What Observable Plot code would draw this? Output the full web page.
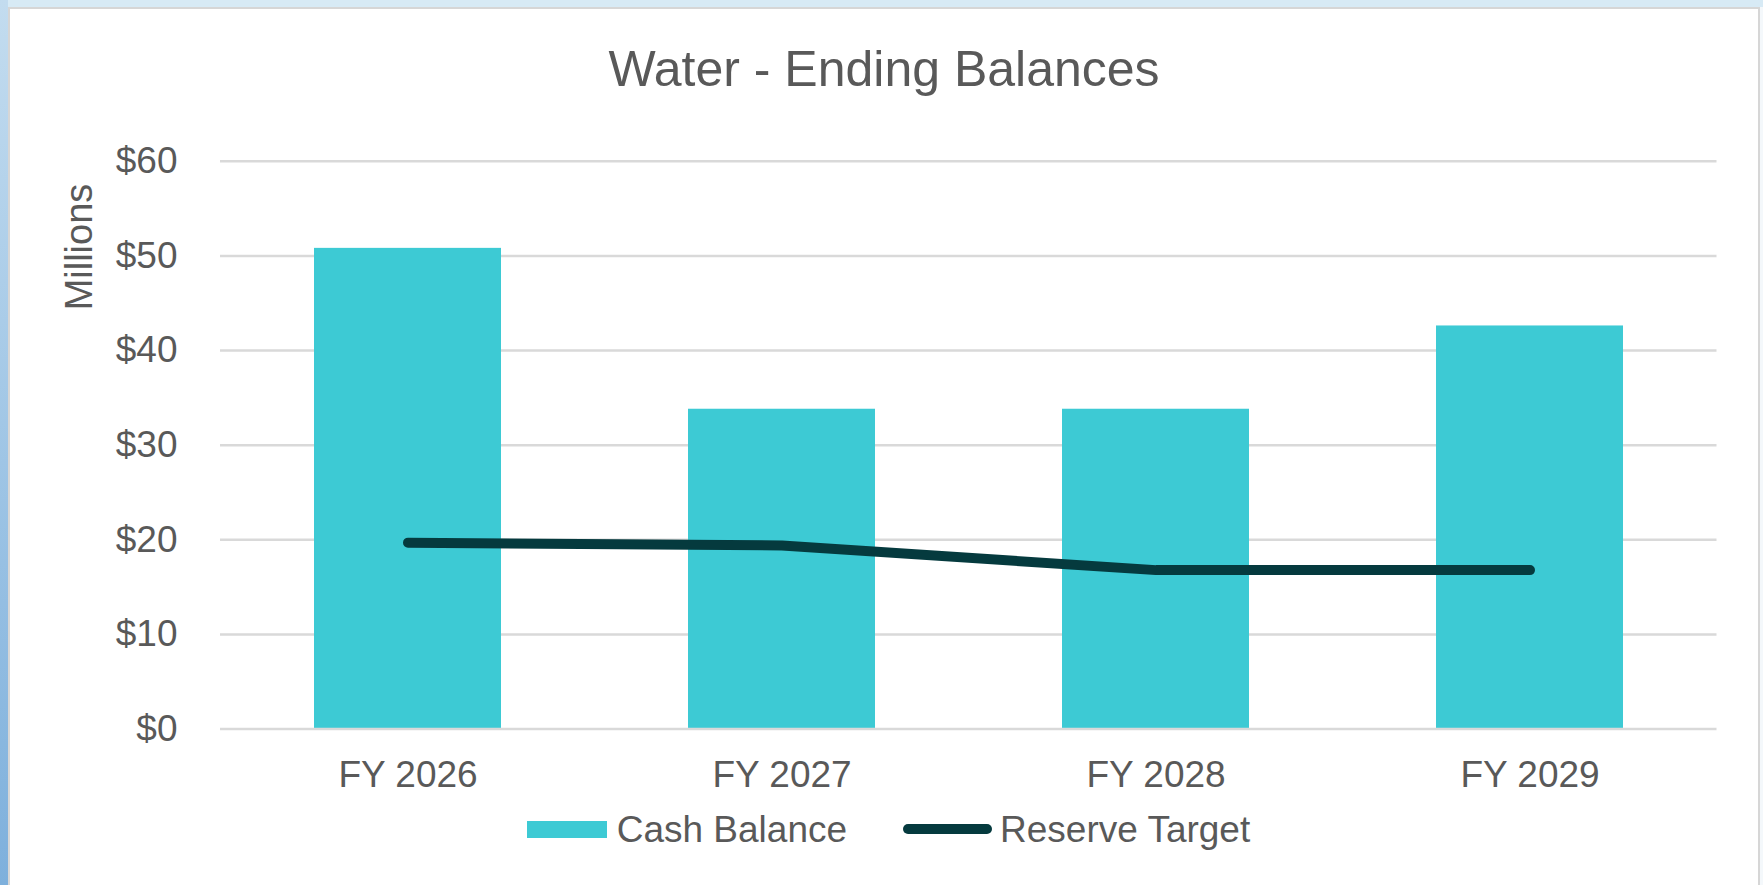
<!DOCTYPE html>
<html><head><meta charset="utf-8">
<script src="https://cdn.jsdelivr.net/npm/d3@7"></script>
<script src="https://cdn.jsdelivr.net/npm/@observablehq/plot@0.6"></script>
<style>
html,body{margin:0;padding:0;}
body{width:1763px;height:885px;overflow:hidden;background:#d7eaf5;font-family:"Liberation Sans",Arial,sans-serif;position:relative;}
#strip{position:absolute;left:0;top:0;width:8px;height:885px;background:linear-gradient(#c3dcef,#7eb0dc);}
#rside{position:absolute;left:1758px;top:7px;width:5px;height:878px;background:#f4f8fb;}
#panel{position:absolute;left:8px;top:7px;width:1752px;height:890px;background:#fff;border:2px solid #d6d6d6;box-sizing:border-box;}
.t{position:absolute;color:#595959;white-space:nowrap;}
#chart{position:absolute;left:0;top:110px;}
</style></head><body>
<div id="strip"></div>
<div id="rside"></div>
<div id="panel"></div>
<div id="chart"></div>
<script>
const title = "Water - Ending Balances";
const yLabel = "Millions";
const categories = ["FY 2026", "FY 2027", "FY 2028", "FY 2029"];
const cashBalance = [50.8, 33.8, 33.8, 42.6];
const reserveTarget = [19.7, 19.4, 16.8, 16.8];
const yTicks = [0, 10, 20, 30, 40, 50, 60];
const seriesNames = ["Cash Balance", "Reserve Target"];
const barColor = "#3dcad4";
const lineColor = "#053a3e";

const data = categories.map((c, i) => ({year: c, cash: cashBalance[i], reserve: reserveTarget[i]}));

const chart = Plot.plot({
  width: 1763, height: 700,
  marginLeft: 220, marginRight: 46.5, marginTop: 50.8, marginBottom: 81.4,
  style: {background: "transparent", fontFamily: "'Liberation Sans', Arial, sans-serif", color: "#595959", fontSize: "37px"},
  x: {domain: categories, paddingInner: 0.5, paddingOuter: 0.25, label: null},
  y: {domain: [0, 60], label: null},
  marks: [
    Plot.ruleY(yTicks.filter(d => d > 0), {stroke: "#d9d9d9", strokeWidth: 2.5}),
    Plot.barY(data, {x: "year", y: "cash", fill: barColor}),
    Plot.ruleY([0], {stroke: "#d9d9d9", strokeWidth: 2.5}),
    Plot.line(data, {x: "year", y: "reserve", stroke: lineColor, strokeWidth: 10, strokeLinecap: "round", strokeLinejoin: "round"}),
    Plot.axisY({ticks: yTicks, tickSize: 0, tickPadding: 43, tickFormat: d => "$" + d, fontSize: 37, label: null}),
    Plot.axisX({tickSize: 0, tickPadding: 32, fontSize: 37, label: null})
  ]
});
document.getElementById("chart").appendChild(chart);

function addText(txt, css) {
  const d = document.createElement("div");
  d.className = "t";
  d.textContent = txt;
  Object.assign(d.style, css);
  document.body.appendChild(d);
  return d;
}
addText(title, {left: "0px", width: "1768px", textAlign: "center", top: "44.3px", fontSize: "50px", lineHeight: "50px"});
addText(yLabel, {left: "-21.2px", top: "227.5px", width: "200px", height: "38px", textAlign: "center", fontSize: "38px", lineHeight: "38px", transform: "rotate(-90deg)"});

// legend
const sw = document.createElement("div");
Object.assign(sw.style, {position: "absolute", left: "526.7px", top: "821px", width: "80px", height: "17px", background: barColor});
document.body.appendChild(sw);
addText(seriesNames[0], {left: "616.7px", top: "811px", fontSize: "37px", lineHeight: "37px"});
const ln = document.createElement("div");
Object.assign(ln.style, {position: "absolute", left: "903px", top: "824px", width: "89px", height: "10px", borderRadius: "5px", background: lineColor});
document.body.appendChild(ln);
addText(seriesNames[1], {left: "1000px", top: "811px", fontSize: "37px", lineHeight: "37px"});
</script>
</body></html>
